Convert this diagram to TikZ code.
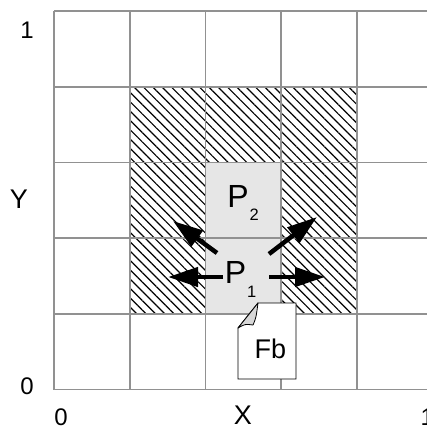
\documentclass[tikz,border=0pt]{standalone}
\usepackage{fontspec}
\setmainfont{Liberation Sans}
\usetikzlibrary{arrows.meta,patterns.meta}
\definecolor{gridgray}{RGB}{145,145,145}
\definecolor{cellgray}{RGB}{230,230,230}
\definecolor{flapgray}{RGB}{215,215,215}
\tikzset{
  gridline/.style={draw=gridgray, line width=1.6pt},
  hatchcell/.style={pattern={Lines[angle=-45,distance=6.6pt,line width=1.2pt]}, pattern color=black},
  pcell/.style={fill=cellgray},
  bigarrow/.style={line width=4.5pt, -{Triangle[length=30pt,width=19pt]}},
  lbl/.style={inner sep=0pt, font=\fontsize{24}{24}\selectfont},
  axlbl/.style={inner sep=0pt, font=\fontsize{27}{27}\selectfont},
  ptext/.style={inner sep=0pt, font=\fontsize{32}{32}\selectfont},
  subtext/.style={font=\fontsize{16.5}{16.5}\selectfont},
  doc/.style={draw=black, line width=0.8pt, fill=white},
  flap/.style={draw=black, line width=0.8pt, fill=flapgray, line join=round}
}
\begin{document}
\begin{tikzpicture}[x=1pt,y=-1pt]
\useasboundingbox (0,0) rectangle (427,429);
\clip (0,0) rectangle (427,429);
% gray cells
\foreach \c/\r in {2/2,2/3}
  \path[pcell] (54+75.7*\c, 11+75.7*\r) rectangle ++(75.7,75.7);
% hatched cells
\foreach \c/\r in {1/1,2/1,3/1,1/2,3/2,1/3,3/3}
  \path[hatchcell] (54+75.7*\c, 11+75.7*\r) rectangle ++(75.7,75.7);
% grid
\foreach \i in {0,...,5} {
  \draw[gridline] (54+75.7*\i, 11) -- (54+75.7*\i, 389.5);
  \draw[gridline] (54, 11+75.7*\i) -- (432.5, 11+75.7*\i);
}
% labels
\node[lbl, anchor=base] (ytop) at (27,38) {1};
\node[axlbl, anchor=base] (ylab) at (19,208) {Y};
\node[lbl, anchor=base] (yzero) at (27,394) {0};
\node[lbl, anchor=base] (xzero) at (61,425) {0};
\node[axlbl, anchor=base] (xlab) at (243,424.5) {X};
\node[lbl, anchor=base west] (xone) at (420.5,425) {1};
% P labels
\node[ptext, anchor=base west] (p2) at (227.2,207) {P\kern1pt\raisebox{-13pt}{\fontsize{16.5}{16.5}\selectfont 2}};
\node[ptext, anchor=base west] (p1) at (224.6,283) {P\kern1pt\raisebox{-14pt}{\fontsize{16.5}{16.5}\selectfont 1}};
% arrows
\coordinate (lt) at (223,277);  \coordinate (lh) at (168,277);
\coordinate (rt) at (269,277);  \coordinate (rh) at (325,277);
\coordinate (urt) at (269,254); \coordinate (urh) at (317,217);
\coordinate (ult) at (217,253); \coordinate (ulh) at (173,221);
\draw[bigarrow] (lt) -- (lh);
\draw[bigarrow] (rt) -- (rh);
\draw[bigarrow] (urt) -- (urh);
\draw[bigarrow] (ult) -- (ulh);
% document Fb
\coordinate (da) at (258,303);
\coordinate (db) at (253,325);
\coordinate (dc) at (238,328);
\path[doc] (da) -- (296,303) -- (296,379) -- (238,379) -- (dc) -- cycle;
\path[flap] (dc) .. controls (245,324) .. (db) .. controls (256,318) .. (da) -- cycle;
\node[axlbl, anchor=base] (fb) at (270.5,358) {Fb};
\end{tikzpicture}
\end{document}
